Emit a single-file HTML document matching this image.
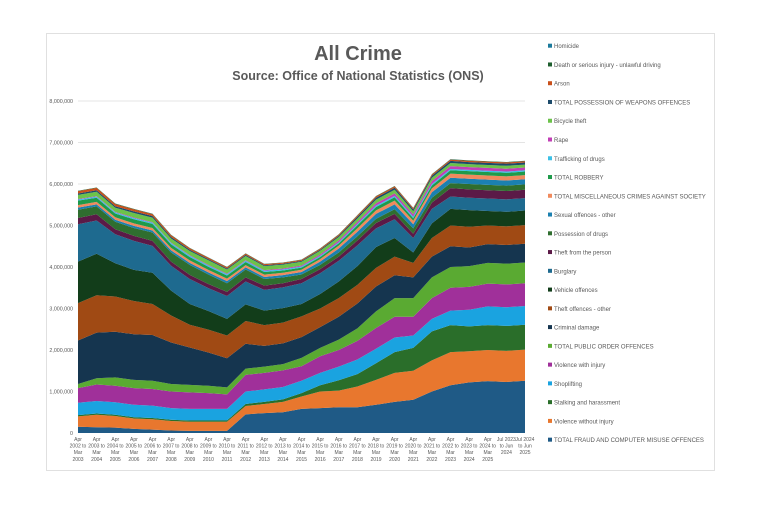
<!DOCTYPE html>
<html><head><meta charset="utf-8"><style>
body{margin:0;background:#fff;font-family:"Liberation Sans",sans-serif}
#card{position:absolute;left:46px;top:33px;width:667px;height:436px;border:1px solid #e0e0e0;background:#fff}
</style></head><body>
<div id="card"></div>
<svg id="chart" width="768" height="512" style="position:absolute;left:0;top:0">
<text x="358" y="60" text-anchor="middle" font-size="20" font-weight="bold" fill="#595959">All Crime</text>
<text x="358" y="80" text-anchor="middle" font-size="12.5" font-weight="bold" fill="#595959">Source: Office of National Statistics (ONS)</text>
<g id="grid"></g><g id="areas"></g><g id="xlab"></g><g id="legend"></g>
</svg>
<script>
const categories=["Apr 2002 to Mar 2003","Apr 2003 to Mar 2004","Apr 2004 to Mar 2005","Apr 2005 to Mar 2006","Apr 2006 to Mar 2007","Apr 2007 to Mar 2008","Apr 2008 to Mar 2009","Apr 2009 to Mar 2010","Apr 2010 to Mar 2011","Apr 2011 to Mar 2012","Apr 2012 to Mar 2013","Apr 2013 to Mar 2014","Apr 2014 to Mar 2015","Apr 2015 to Mar 2016","Apr 2016 to Mar 2017","Apr 2017 to Mar 2018","Apr 2018 to Mar 2019","Apr 2019 to Mar 2020","Apr 2020 to Mar 2021","Apr 2021 to Mar 2022","Apr 2022 to Mar 2023","Apr 2023 to Mar 2024","Apr 2024 to Mar 2025","Jul 2023 to Jun 2024","Jul 2024 to Jun 2025"];
const labelLines=[["Apr","2002 to","Mar","2003"],["Apr","2003 to","Mar","2004"],["Apr","2004 to","Mar","2005"],["Apr","2005 to","Mar","2006"],["Apr","2006 to","Mar","2007"],["Apr","2007 to","Mar","2008"],["Apr","2008 to","Mar","2009"],["Apr","2009 to","Mar","2010"],["Apr","2010 to","Mar","2011"],["Apr","2011 to","Mar","2012"],["Apr","2012 to","Mar","2013"],["Apr","2013 to","Mar","2014"],["Apr","2014 to","Mar","2015"],["Apr","2015 to","Mar","2016"],["Apr","2016 to","Mar","2017"],["Apr","2017 to","Mar","2018"],["Apr","2018 to","Mar","2019"],["Apr","2019 to","Mar","2020"],["Apr","2020 to","Mar","2021"],["Apr","2021 to","Mar","2022"],["Apr","2022 to","Mar","2023"],["Apr","2023 to","Mar","2024"],["Apr","2024 to","Mar","2025"],["Jul 2023","to Jun","2024"],["Jul 2024","to Jun","2025"]];
const yTicks=[0,1000000,2000000,3000000,4000000,5000000,6000000,7000000,8000000];
const seriesNames=["TOTAL FRAUD  AND COMPUTER MISUSE OFFENCES","Violence without injury","Stalking and harassment","Shoplifting","Violence with injury","TOTAL PUBLIC ORDER OFFENCES","Criminal damage","Theft offences - other","Vehicle offences","Burglary","Theft from the person","Possession of drugs","Sexual offences - other","TOTAL MISCELLANEOUS CRIMES AGAINST SOCIETY","TOTAL ROBBERY","Trafficking of drugs","Rape","Bicycle theft","TOTAL POSSESSION OF WEAPONS OFFENCES","Arson","Death or serious injury - unlawful driving","Homicide"];
const seriesColors=["#1f5a86","#e8772e","#2a6e2a","#1aa3e0","#a0309a","#5aaa32","#15354f","#a04a14","#123d1a","#1e6a8f","#5b1a47","#2f6e2f","#1b80b0","#f08a5d","#1f9a4a","#3cc0e6","#c23fb6","#6cc24a","#1c4a6a","#c94f1a","#1e5e2e","#1b7a9c"];
const sFraud=[150,140,130,100,80,60,50,50,50,450,480,500,580,600,620,620,680,750,800,1000,1150,1220,1250,1230,1260];
const sVWOI=[250,300,280,250,250,230,220,220,220,200,220,250,300,400,400,500,600,700,700,750,800,750,750,750,750];
const sStalk=[30,30,30,30,30,30,30,30,30,50,50,60,80,150,250,300,400,500,550,700,650,600,600,600,600];
const sShop=[300,300,300,300,300,280,280,280,280,300,300,300,300,300,330,350,350,350,300,300,350,400,450,450,450];
const sVWI=[350,400,400,400,400,400,400,380,350,400,400,400,350,400,400,450,500,500,450,500,550,550,550,550,550];
const sPO=[100,150,200,200,200,180,180,180,170,150,150,150,200,200,250,300,400,450,450,500,500,500,500,500,500];
const sCD=[1050,1100,1100,1100,1100,1000,900,800,700,600,500,500,500,500,550,600,600,550,500,500,500,450,450,450,450];
const sTO=[900,900,850,800,750,650,550,550,550,550,500,500,500,450,450,450,450,450,350,450,500,500,450,450,450];
const sVeh=[1000,1000,800,750,750,600,500,450,400,400,350,350,300,350,400,450,500,450,250,350,400,400,350,350,350];
const sBurg=[900,800,700,700,650,600,600,550,550,550,500,500,500,500,500,500,450,450,350,350,300,300,300,300,300];
const sTFP=[150,150,120,120,120,100,100,100,100,100,100,100,100,100,100,120,130,130,100,150,200,200,200,200,200];
const sDrugs=[200,190,180,190,200,220,240,230,210,190,160,140,110,100,100,100,100,110,130,120,120,130,130,130,130];
const sSex=[50,50,50,50,50,50,50,50,50,50,50,55,60,80,95,110,120,120,100,130,130,125,125,125,125];
const sMisc=[60,60,60,60,60,60,60,60,60,55,55,55,55,60,70,80,85,90,85,95,100,100,100,100,100];
const sRob=[110,100,90,100,100,85,80,75,75,75,65,55,50,50,55,75,80,80,60,70,80,85,85,85,85];
const sTraf=[25,25,25,28,28,30,32,32,30,30,30,28,27,27,27,30,33,35,38,35,32,30,30,30,30];
const sRape=[12,13,14,14,13,13,13,15,15,16,16,20,25,35,40,50,55,58,55,70,70,68,68,68,68];
const sBike=[100,105,100,110,110,100,100,110,100,100,95,95,90,90,85,85,90,90,75,80,75,70,70,72,70];
const sWeap=[35,35,35,38,38,35,30,27,25,25,22,21,22,25,30,40,45,47,45,48,50,50,50,50,50];
const sArson=[55,58,55,50,45,42,37,33,30,30,25,22,22,24,28,30,33,33,30,30,30,30,30,30,30];
const sDeath=[10,10,10,10,10,10,9,8,8,8,8,8,8,8,8,9,9,9,8,9,10,10,10,10,10];
const sHom=[1,1,1,1,1,1,1,1,1,1,1,1,1,1,1,1,1,1,1,1,1,1,1,1,1];
const series=[sFraud,sVWOI,sStalk,sShop,sVWI,sPO,sCD,sTO,sVeh,sBurg,sTFP,sDrugs,sSex,sMisc,sRob,sTraf,sRape,sBike,sWeap,sArson,sDeath,sHom];

const NS="http://www.w3.org/2000/svg";
const X0=78,X1=525,Y0=433,Y1=101,YMAX=8000000;
const xs=i=>X0+(X1-X0)*i/(categories.length-1);
const ys=v=>Y0-(Y0-Y1)*v/YMAX;
function mk(tag,attrs,parent){const e=document.createElementNS(NS,tag);for(const k in attrs)e.setAttribute(k,attrs[k]);parent.appendChild(e);return e;}
const grid=document.getElementById('grid');
yTicks.forEach(t=>{
  if(t>0){const l=mk('line',{x1:X0,x2:X1,y1:ys(t),y2:ys(t),stroke:'#e4e4e4','stroke-width':1},grid);
  
  }
  const tx=mk('text',{x:73,y:ys(t)+2,'text-anchor':'end','font-size':5.3,fill:'#595959'},grid);
  tx.textContent=t.toLocaleString('en-US');
  
  
});
const areas=document.getElementById('areas');
let base=categories.map(()=>0);
series.forEach((s,si)=>{
  const top=base.map((b,i)=>b+s[i]*1000);
  let d='M'+categories.map((c,i)=>xs(i).toFixed(2)+','+ys(top[i]).toFixed(2)).join('L');
  for(let i=categories.length-1;i>=0;i--)d+='L'+xs(i).toFixed(2)+','+ys(base[i]).toFixed(2);
  d+='Z';
  const p=mk('path',{d:d,fill:seriesColors[si]},areas);
  
  
  base=top;
});
const xl=document.getElementById('xlab');
labelLines.forEach((ls,i)=>{
  const t=mk('text',{x:xs(i),y:441,'text-anchor':'middle','font-size':5.0,fill:'#595959'},xl);
  
  
  ls.forEach((s,j)=>{const ts=mk('tspan',{x:xs(i),dy:j?6.6:0},t);ts.textContent=s;});
});
const lg=document.getElementById('legend');
for(let k=0;k<seriesNames.length;k++){
  const si=seriesNames.length-1-k;
  const y=46+k*18.76;
  const g=mk('g',{},lg);
  
  
  mk('rect',{x:548,y:y-2.3,width:4,height:4,fill:seriesColors[si]},g);
  const t=mk('text',{x:554,y:y+2.2,'font-size':6.0,fill:'#595959'},g);
  t.textContent=seriesNames[si];
}
</script>
</body></html>
